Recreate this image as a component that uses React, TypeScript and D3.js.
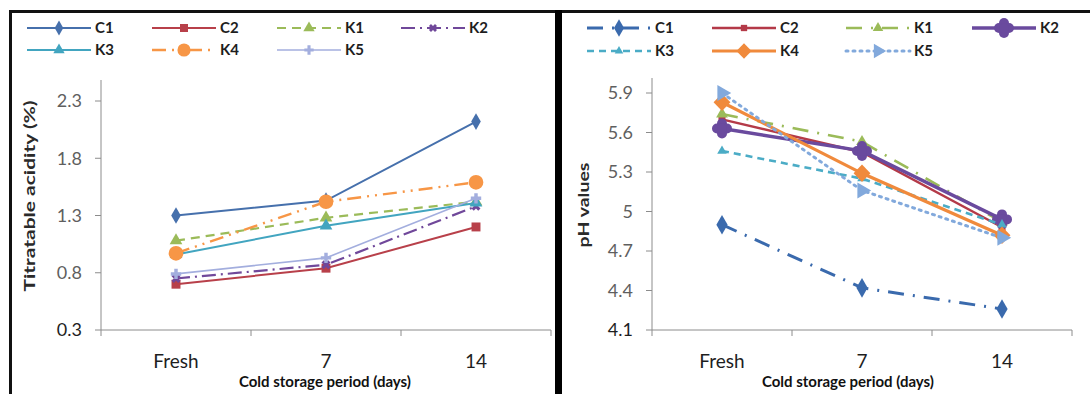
import { useEffect, useRef } from 'react'
import * as d3 from 'd3'

const categories = ['Fresh', '7', '14']
const seriesNames = ['C1', 'C2', 'K1', 'K2', 'K3', 'K4', 'K5']

// Titratable acidity (%)
const acidityC1 = [1.30, 1.43, 2.12]
const acidityC2 = [0.70, 0.84, 1.20]
const acidityK1 = [1.08, 1.28, 1.42]
const acidityK2 = [0.75, 0.87, 1.38]
const acidityK3 = [0.96, 1.21, 1.41]
const acidityK4 = [0.97, 1.42, 1.59]
const acidityK5 = [0.79, 0.93, 1.45]
const acidityTicks = [0.3, 0.8, 1.3, 1.8, 2.3]

// pH values
const phC1 = [4.90, 4.42, 4.26]
const phC2 = [5.70, 5.45, 4.88]
const phK1 = [5.74, 5.53, 4.92]
const phK2 = [5.63, 5.46, 4.94]
const phK3 = [5.46, 5.25, 4.90]
const phK4 = [5.83, 5.29, 4.82]
const phK5 = [5.90, 5.16, 4.80]
const phTicks = [4.1, 4.4, 4.7, 5, 5.3, 5.6, 5.9]

type Style = { color: string; dash: string; width: number; marker: string; size: number }

const acidityStyles: Style[] = [
  { color: '#4670ac', dash: '', width: 2, marker: 'diamond', size: 80 },
  { color: '#b8404a', dash: '', width: 2, marker: 'square', size: 80 },
  { color: '#9bbb59', dash: '9,6', width: 2.2, marker: 'triangle', size: 70 },
  { color: '#70489a', dash: '14,5,2,5', width: 2.2, marker: 'x', size: 50 },
  { color: '#42a5c0', dash: '', width: 2, marker: 'triangle', size: 70 },
  { color: '#f79646', dash: '14,6,2,6,2,6', width: 2.4, marker: 'circle', size: 170 },
  { color: '#a3aede', dash: '', width: 1.6, marker: 'cross', size: 60 },
]

const phStyles: Style[] = [
  { color: '#3a6aad', dash: '16,9,2,9', width: 3, marker: 'diamond', size: 110 },
  { color: '#b43a48', dash: '', width: 2.4, marker: 'square', size: 50 },
  { color: '#9bbb59', dash: '16,9,2,9', width: 2.6, marker: 'triangle', size: 60 },
  { color: '#6a4a9e', dash: '', width: 3.4, marker: 'flower', size: 0 },
  { color: '#4bacc6', dash: '7,5', width: 2.6, marker: 'triangle', size: 40 },
  { color: '#f08a3c', dash: '', width: 3.2, marker: 'arrow', size: 110 },
  { color: '#82a9dc', dash: '2,5', width: 3, marker: 'rtri', size: 110 },
]

const fontFamily = 'Lato, "Open Sans", sans-serif'

function drawMarker(
  g: d3.Selection<SVGGElement, unknown, null, undefined>,
  kind: string, x: number, y: number, color: string, size: number
) {
  if (kind === 'flower') {
    const petals = [[0, -5], [5, 0], [0, 5], [-5, 0], [0, 0]]
    petals.forEach(([dx, dy]) => {
      g.append('circle').attr('cx', x + dx).attr('cy', y + dy).attr('r', 5).attr('fill', color)
    })
    return
  }
  const types: Record<string, d3.SymbolType> = {
    diamond: d3.symbolDiamond,
    square: d3.symbolSquare,
    triangle: d3.symbolTriangle,
    circle: d3.symbolCircle,
    cross: d3.symbolCross,
    x: d3.symbolCross,
    arrow: d3.symbolDiamond,
    rtri: d3.symbolTriangle,
  }
  let transform = `translate(${x},${y})`
  if (kind === 'x') transform += ' rotate(45)'
  if (kind === 'arrow') transform += ' scale(1.5,0.9)'
  if (kind === 'rtri') transform += ' rotate(90)'
  g.append('path')
    .attr('d', d3.symbol().type(types[kind]).size(size)() as string)
    .attr('transform', transform)
    .attr('fill', color)
}

interface PanelOpts {
  values: number[][]
  styles: Style[]
  ticks: number[]
  xRange: [number, number]
  yRange: [number, number]
  axisTop: number
  yTitle: string
  yTitlePos: [number, number]
  yTitleStretch: number
  xTitleX: number
  legendCols: number[]
  legendRows: number[]
}

function drawPanel(svg: d3.Selection<SVGSVGElement, unknown, null, undefined>, o: PanelOpts) {
  const g = svg.append('g')
  const x = d3.scaleBand<string>().domain(categories).range(o.xRange)
  const y = d3.scaleLinear()
    .domain([o.ticks[0], o.ticks[o.ticks.length - 1]])
    .range(o.yRange)
  const axisColor = '#8c8c8c'
  const x0 = o.xRange[0]
  const yBase = o.yRange[0]

  // y axis
  g.append('line')
    .attr('x1', x0).attr('x2', x0).attr('y1', o.axisTop).attr('y2', yBase)
    .attr('stroke', axisColor)
  o.ticks.forEach((t, i) => {
    g.append('line')
      .attr('x1', x0 - 6).attr('x2', x0).attr('y1', y(t)).attr('y2', y(t))
      .attr('stroke', axisColor)
    g.append('text')
      .attr('x', x0 - 19).attr('y', y(t)).attr('dy', '0.35em')
      .attr('text-anchor', 'end')
      .attr('font-family', fontFamily).attr('font-size', 18)
      .attr('fill', i === 0 ? '#1e1e1e' : '#5f5f5f')
      .text(d3.format('')(t))
  })

  // x axis
  g.append('line')
    .attr('x1', x0).attr('x2', o.xRange[1]).attr('y1', yBase).attr('y2', yBase)
    .attr('stroke', axisColor)
  const bounds = [x0, ...categories.map((c) => (x(c) as number) + x.bandwidth())]
  bounds.forEach((b) => {
    g.append('line')
      .attr('x1', b).attr('x2', b).attr('y1', yBase).attr('y2', yBase + 6)
      .attr('stroke', axisColor)
  })
  categories.forEach((c) => {
    g.append('text')
      .attr('x', (x(c) as number) + x.bandwidth() / 2).attr('y', yBase + 38)
      .attr('text-anchor', 'middle')
      .attr('font-family', fontFamily).attr('font-size', 19)
      .attr('fill', '#1e1e1e')
      .text(c)
  })

  // titles
  g.append('text')
    .attr('x', o.xTitleX).attr('y', yBase + 57)
    .attr('text-anchor', 'middle')
    .attr('font-family', fontFamily).attr('font-size', 15).attr('font-weight', 700)
    .attr('fill', '#111')
    .text('Cold storage period (days)')
  g.append('text')
    .attr('transform', `translate(${o.yTitlePos[0]},${o.yTitlePos[1]}) rotate(-90) scale(${o.yTitleStretch},1)`)
    .attr('text-anchor', 'middle').attr('dy', '0.35em')
    .attr('font-family', fontFamily).attr('font-size', 15).attr('font-weight', 700)
    .attr('fill', '#2a2a2a')
    .text(o.yTitle)

  // series
  const line = d3.line<number>()
    .x((_, i) => (x(categories[i]) as number) + x.bandwidth() / 2)
    .y((d) => y(d))

  o.values.forEach((vals, si) => {
    const s = o.styles[si]
    g.append('path')
      .datum(vals)
      .attr('fill', 'none')
      .attr('stroke', s.color)
      .attr('stroke-width', s.width)
      .attr('stroke-dasharray', s.dash || null)
      .attr('stroke-linecap', s.dash === '2,5' ? 'round' : 'butt')
      .attr('d', line)
    vals.forEach((v, i) => {
      drawMarker(g, s.marker, (x(categories[i]) as number) + x.bandwidth() / 2, y(v), s.color, s.size)
    })
  })

  // legend
  seriesNames.forEach((name, i) => {
    const s = o.styles[i]
    const lx = o.legendCols[i % 4]
    const ly = o.legendRows[Math.floor(i / 4)]
    g.append('line')
      .attr('x1', lx).attr('x2', lx + 64).attr('y1', ly).attr('y2', ly)
      .attr('stroke', s.color).attr('stroke-width', s.width)
      .attr('stroke-dasharray', s.dash || null)
      .attr('stroke-linecap', s.dash === '2,5' ? 'round' : 'butt')
    drawMarker(g, s.marker, lx + 32, ly, s.color, s.size * 0.8)
    g.append('text')
      .attr('x', lx + 68).attr('y', ly).attr('dy', '0.35em')
      .attr('font-family', fontFamily).attr('font-size', 15).attr('font-weight', 700)
      .attr('fill', '#1e1e1e')
      .text(name)
  })
}

export default function App() {
  const svgRef = useRef<SVGSVGElement>(null)

  useEffect(() => {
    if (!svgRef.current) return
    const svg = d3.select(svgRef.current)
    svg.selectAll('*').remove()

    svg.append('rect').attr('width', 1090).attr('height', 394).attr('fill', '#fff')

    drawPanel(svg, {
      values: [acidityC1, acidityC2, acidityK1, acidityK2, acidityK3, acidityK4, acidityK5],
      styles: acidityStyles,
      ticks: acidityTicks,
      xRange: [101, 551],
      yRange: [330, 101],
      axisTop: 80,
      yTitle: 'Titratable acidity (%)',
      yTitlePos: [30, 196],
      yTitleStretch: 1.4,
      xTitleX: 325,
      legendCols: [27, 152, 277, 401],
      legendRows: [28, 50],
    })

    drawPanel(svg, {
      values: [phC1, phC2, phK1, phK2, phK3, phK4, phK5],
      styles: phStyles,
      ticks: phTicks,
      xRange: [652, 1072],
      yRange: [330, 93],
      axisTop: 78,
      yTitle: 'pH values',
      yTitlePos: [584, 205],
      yTitleStretch: 1.3,
      xTitleX: 848,
      legendCols: [587, 712, 846, 972],
      legendRows: [28, 51],
    })

    // frame pieces
    svg.append('rect').attr('x', 9).attr('y', 10).attr('width', 1081).attr('height', 3).attr('fill', '#111')
    svg.append('rect').attr('x', 9).attr('y', 10).attr('width', 3).attr('height', 384).attr('fill', '#111')
    svg.append('rect').attr('x', 555).attr('y', 10).attr('width', 7).attr('height', 384).attr('fill', '#000')
  }, [])

  return (
    <svg
      ref={svgRef}
      width={1090}
      height={394}
      style={{ position: 'absolute', left: 0, top: 0, display: 'block' }}
    />
  )
}
